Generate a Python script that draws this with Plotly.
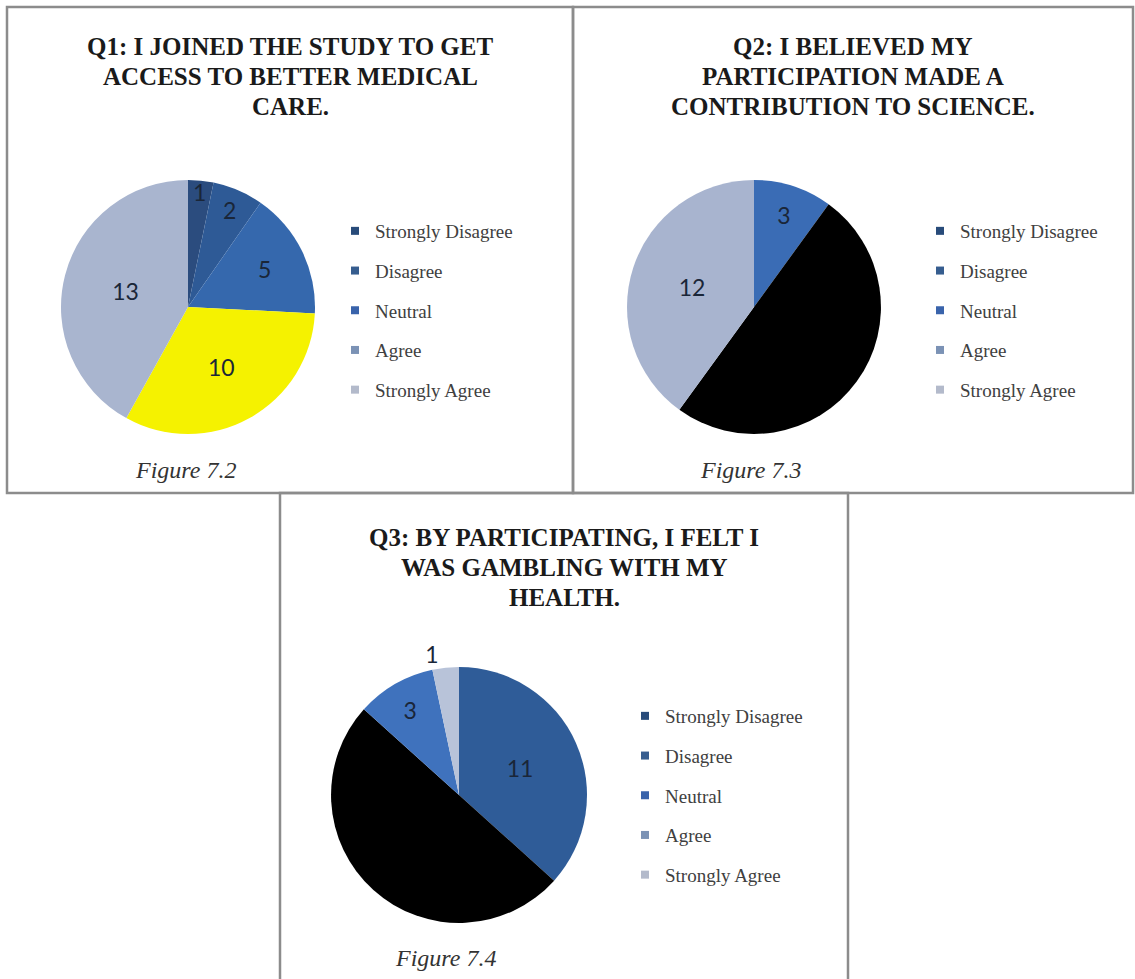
import plotly.graph_objects as go

W, H = 1135, 979

categories = ["Strongly Disagree", "Disagree", "Neutral", "Agree", "Strongly Agree"]
q1_values = [1, 2, 5, 10, 13]
q2_values = [0, 0, 3, 15, 12]
q3_values = [11, 15, 3, 0, 1]

q1_title = ["Q1: I JOINED THE STUDY TO GET", "ACCESS TO BETTER MEDICAL", "CARE."]
q2_title = ["Q2: I BELIEVED MY", "PARTICIPATION MADE A", "CONTRIBUTION TO SCIENCE."]
q3_title = ["Q3: BY PARTICIPATING, I FELT I", "WAS GAMBLING WITH MY", "HEALTH."]
captions = ["Figure 7.2", "Figure 7.3", "Figure 7.4"]

legend_colors = ["#284b7a", "#365d8f", "#3963ab", "#7b92b5", "#b3bacb"]
q1_colors = ["#2b4c7e", "#2e5a96", "#3568ad", "#f5f200", "#a9b5cf"]
q2_colors = ["#2b4c7e", "#2e5a96", "#3a6cb5", "#000000", "#a8b4cf"]
q3_colors = ["#2f5c98", "#000000", "#3f72bd", "#7b92b5", "#b8c3d9"]

LABEL_COLOR = "#1a2638"


def px_dom(cx, cy, r):
    return dict(x=[(cx - r) / W, (cx + r) / W], y=[1 - (cy + r) / H, 1 - (cy - r) / H])


fig = go.Figure()

pies = [
    (q1_values, q1_colors, (188, 307, 127), ["inside"] * 5),
    (q2_values, q2_colors, (754, 307, 127), ["inside"] * 5),
    (q3_values, q3_colors, (459, 795, 128), ["inside", "inside", "inside", "inside", "outside"]),
]
for vals, cols, (cx, cy, r), tpos in pies:
    texts = [str(v) if v else "" for v in vals]
    tcolors = ["#000000" if c == "#000000" else LABEL_COLOR for c in cols]
    fig.add_trace(go.Pie(
        labels=categories, values=vals, sort=False, direction="clockwise", rotation=0,
        marker=dict(colors=cols, line=dict(width=0)),
        text=texts, textinfo="text", textposition=tpos,
        insidetextorientation="horizontal",
        textfont=dict(family="Lato, Open Sans, sans-serif", size=23, color=tcolors),
        domain=px_dom(cx, cy, r), showlegend=False, hoverinfo="label+value",
    ))

legend_names = ["legend", "legend2", "legend3"]
for ln in legend_names:
    for cat, col in zip(categories, legend_colors):
        fig.add_trace(go.Scatter(
            x=[None], y=[None], mode="markers", name=cat,
            marker=dict(symbol="square", size=8, color=col),
            legend=ln, legendgroup=ln + cat, showlegend=True,
        ))

leg_common = dict(
    font=dict(family="Liberation Serif, Times New Roman, serif", size=19, color="#404040"),
    bgcolor="rgba(0,0,0,0)", borderwidth=0, tracegroupgap=12, traceorder="grouped",
    xanchor="left", yanchor="top", itemclick=False, itemdoubleclick=False,
)
leg_pos = [(335, 212), (920, 212), (625, 697)]
layout_legends = {}
for ln, (lx, ly) in zip(legend_names, leg_pos):
    layout_legends[ln] = dict(x=lx / W, y=1 - ly / H, **leg_common)

shapes = []
boxes = [(7, 7, 573, 493), (573, 7, 1133, 493), (280, 493, 848, 985)]
for x0, y0, x1, y1 in boxes:
    shapes.append(dict(type="rect", xref="paper", yref="paper",
                       x0=x0 / W, x1=x1 / W, y0=1 - y1 / H, y1=1 - y0 / H,
                       line=dict(color="#8c8c8c", width=2.5), fillcolor="rgba(0,0,0,0)"))

annotations = []
title_pos = [(290, 47, q1_title), (853, 47, q2_title), (564, 537, q3_title)]
for cx, ty, lines in title_pos:
    for i, line in enumerate(lines):
        annotations.append(dict(
            text="<b>" + line + "</b>", x=cx / W, y=1 - (ty + 30 * i) / H,
            xref="paper", yref="paper", xanchor="center", yanchor="middle",
            showarrow=False,
            font=dict(family="Liberation Serif, Times New Roman, serif", size=25, color="#1a1a1a"),
        ))
cap_pos = [(185, 470), (750, 470), (445, 958)]
for (cx, cy), cap in zip(cap_pos, captions):
    annotations.append(dict(
        text="<i>" + cap + "</i>", x=cx / W, y=1 - cy / H, xref="paper", yref="paper",
        xanchor="center", yanchor="middle", showarrow=False,
        font=dict(family="Liberation Serif, Times New Roman, serif", size=24, color="#333333"),
    ))

fig.update_layout(
    width=W, height=H, margin=dict(l=0, r=0, t=0, b=0),
    paper_bgcolor="white", plot_bgcolor="white",
    xaxis=dict(visible=False), yaxis=dict(visible=False),
    shapes=shapes, annotations=annotations,
    uniformtext=dict(minsize=23, mode="show"),
    **layout_legends,
)

fig.write_html("out.html", config={"displayModeBar": False},
               post_script="document.body.style.margin='0';document.body.style.overflow='hidden';")
